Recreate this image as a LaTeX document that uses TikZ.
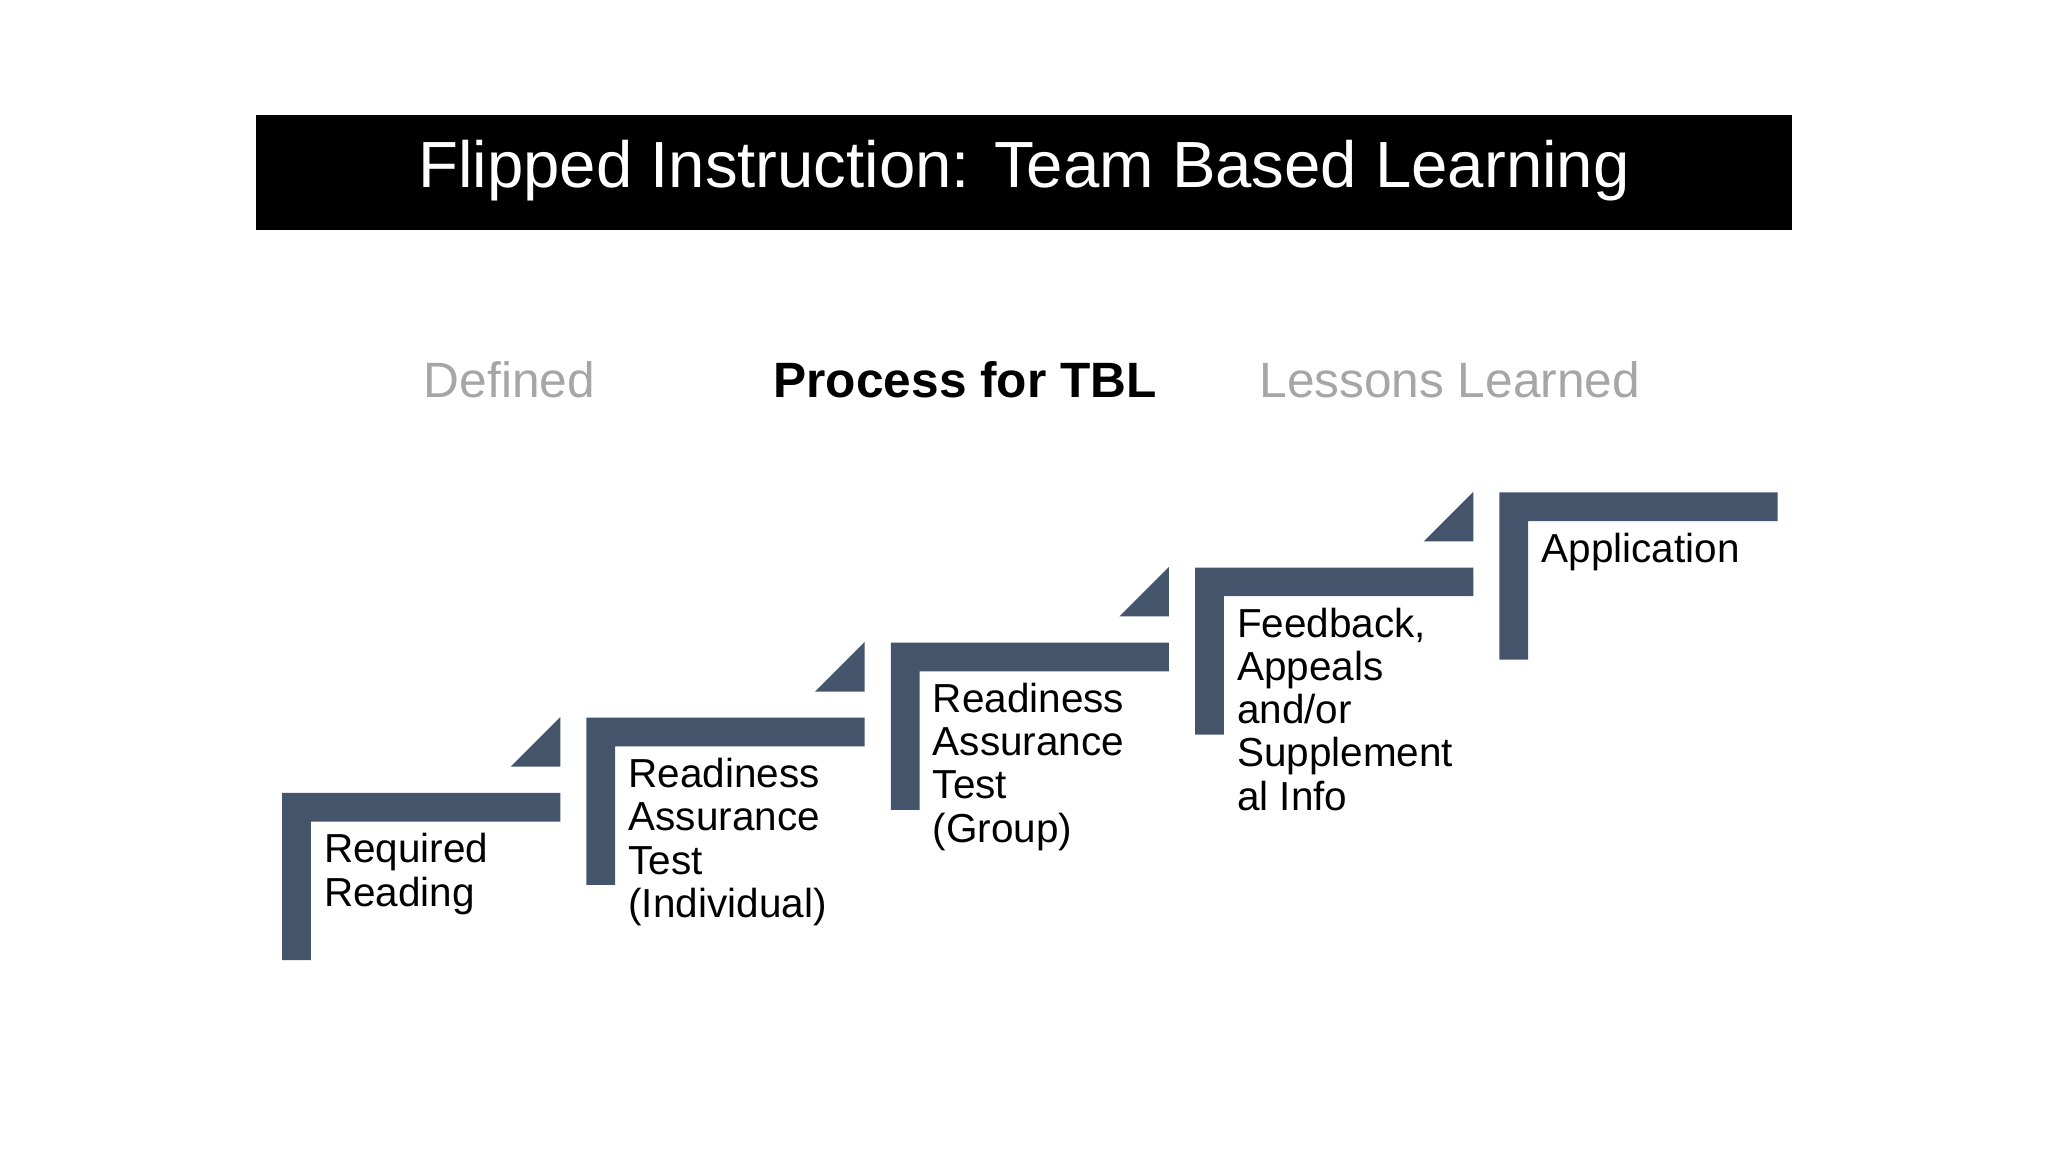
\documentclass[tikz,border=0pt]{standalone}
\usepackage{fontspec}
\setmainfont{Liberation Sans}
\definecolor{bar}{HTML}{44546A}
\definecolor{tabgray}{HTML}{A6A6A6}
\begin{document}
\begin{tikzpicture}[x=1pt,y=-1pt,
  lbl/.style={anchor=north west,align=left,inner sep=0pt,font=\fontsize{31}{33}\selectfont,text=black},
  tab/.style={font=\fontsize{38}{40}\selectfont}]
\useasboundingbox (0,0) rectangle (1568,882);
\fill[white] (0,0) rectangle (1568,882);
\fill[black] (196,88) rectangle (1372,176);
\node[text=white,font=\fontsize{50}{55}\selectfont] (title) at (784,131) {Flipped Instruction: Team Based Learning};
\node[tab,text=tabgray] (t1) at (390,291) {Defined};
\node[tab,font=\fontsize{38}{40}\selectfont\bfseries] (t2) at (739,291) {Process for TBL};
\node[tab,text=tabgray] (t3) at (1110,291) {Lessons Learned};
\foreach \i/\txt in {0/{Required\\Reading},1/{Readiness\\Assurance\\Test\\(Individual)},2/{Readiness\\Assurance\\Test\\(Group)},3/{Feedback,\\Appeals\\and/or\\Supplement\\al Info},4/{Application}}{
  \pgfmathsetmacro\L{216+233*\i}
  \pgfmathsetmacro\T{607-57.5*\i}
  \fill[bar] (\L,\T) -- (\L+213,\T) -- (\L+213,\T+22) -- (\L+22,\T+22) -- (\L+22,\T+128) -- (\L,\T+128) -- cycle;
  \node[lbl] (s\i) at (\L+32,\T+31) {\txt};
  \ifnum\i<4
    \fill[bar] (\L+213,\T-58) -- (\L+213,\T-20) -- (\L+175,\T-20) -- cycle;
  \fi
}
\end{tikzpicture}
\end{document}
